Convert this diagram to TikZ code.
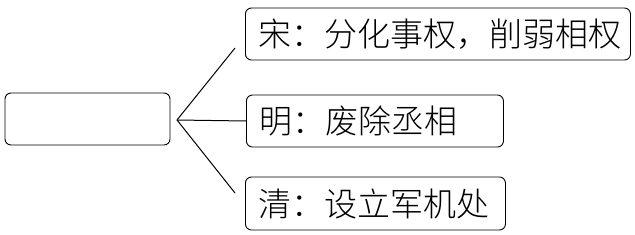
\documentclass[tikz,border=0pt]{standalone}
\usepackage{fontspec}
\newfontfamily\cjk{Noto Sans CJK SC Light}
\begin{document}
\begin{tikzpicture}[x=1pt,y=1pt,font=\cjk\fontsize{33}{38}\selectfont,
    box/.style={draw,line width=.9pt,rounded corners=6pt,minimum height=52pt,inner xsep=0pt},
    era/.style={box,anchor=west,align=left,inner xsep=13pt}]
  \useasboundingbox (0,0) rectangle (635,234);
  \node[box,minimum width=165pt] (root) at (87.5,115) {};
  \node[era,text width=359pt] (song) at (245,200) {宋：分化事权，削弱相权};
  \node[era,text width=231pt] (ming) at (246,113) {明：废除丞相};
  \node[era,text width=234pt,minimum height=53pt] (qing) at (245,30.5) {清：设立军机处};
  \coordinate (fork) at (177,114);
  \coordinate (songend) at (235,186);
  \coordinate (qingend) at (235,41);
  \draw[line width=1pt] (fork) -- (songend);
  \draw[line width=1pt] (fork) -- (ming.west);
  \draw[line width=1pt] (fork) -- (qingend);
\end{tikzpicture}
\end{document}
